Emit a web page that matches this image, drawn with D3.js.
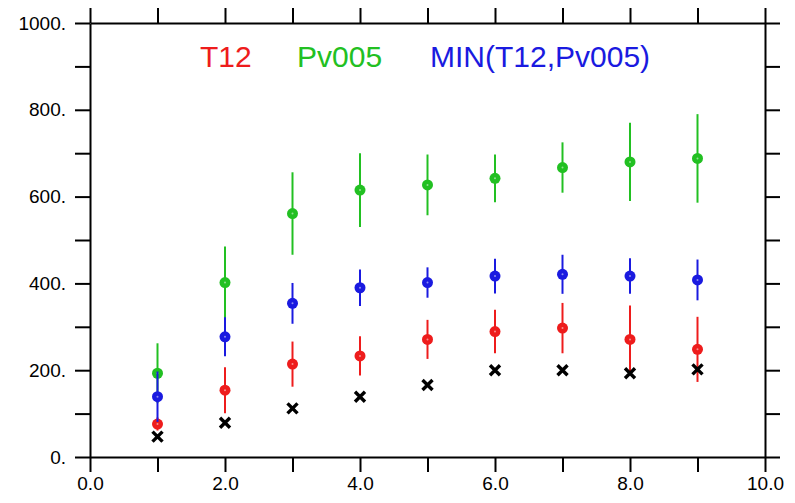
<!DOCTYPE html>
<html>
<head>
<meta charset="utf-8">
<script src="https://cdn.jsdelivr.net/npm/d3@7"></script>
<style>
  body { margin: 0; background: #fff; }
  svg { display: block; font-family: "Liberation Sans", Arial, sans-serif; }
</style>
</head>
<body>
<svg id="view" width="795" height="503"></svg>
<script>
// values
var xs = [1, 2, 3, 4, 5, 6, 7, 8, 9];
var t12 = [76, 154, 214, 233, 271, 289, 297, 271, 248];
var t12Err = [15, 53, 52, 45, 45, 50, 58, 78, 75];
var pv005 = [193, 402, 561, 615, 627, 642, 667, 680, 688];
var pv005Err = [69, 83, 95, 85, 70, 55, 58, 90, 102];
var minT12Pv = [139, 277, 354, 390, 402, 417, 421, 417, 408];
var minT12PvErr = [58, 45, 47, 42, 35, 40, 45, 41, 47];
var obs = [47, 79, 112, 139, 166, 200, 200, 193, 202];

var xTicks = [0, 1, 2, 3, 4, 5, 6, 7, 8, 9, 10];
var yTicks = [0, 100, 200, 300, 400, 500, 600, 700, 800, 900, 1000];
var legendNames = ['T12', 'Pv005', 'MIN(T12,Pv005)'];

var RED = '#ee1c1c', GREEN = '#22c022', BLUE = '#1a1ae0';

var svg = d3.select('svg#view');
// frame edges (note: "top" is taken by window.top)
var plotL = 90, plotR = 765, plotT = 23, plotB = 457;

var x = d3.scaleLinear().domain([0, 10]).range([plotL, plotR]);
var y = d3.scaleLinear().domain([0, 1000]).range([plotB, plotT]);

// axes, ticks outward on all four sides
function xFmt(d) { return d % 2 === 0 ? d.toFixed(1) : ''; }
function yFmt(d) { return d % 200 === 0 ? d + '.' : ''; }

svg.append('g').attr('transform', 'translate(0,' + plotB + ')')
	.call(d3.axisBottom(x).tickValues(xTicks).tickFormat(xFmt).tickSize(15).tickSizeOuter(0).tickPadding(5));
svg.append('g').attr('transform', 'translate(0,' + plotT + ')')
	.call(d3.axisTop(x).tickValues(xTicks).tickFormat('').tickSize(15).tickSizeOuter(0));
svg.append('g').attr('transform', 'translate(' + plotL + ',0)')
	.call(d3.axisLeft(y).tickValues(yTicks).tickFormat(yFmt).tickSize(15).tickSizeOuter(0).tickPadding(9));
svg.append('g').attr('transform', 'translate(' + plotR + ',0)')
	.call(d3.axisRight(y).tickValues(yTicks).tickFormat('').tickSize(15).tickSizeOuter(0));

svg.selectAll('.domain').attr('stroke', '#000').attr('stroke-width', 2);
svg.selectAll('.tick line').attr('stroke', '#000').attr('stroke-width', 2);
svg.selectAll('.tick text').attr('fill', '#000').style('font-size', '19px')
	.style('font-family', '"Liberation Sans", Arial, sans-serif');

// series with error bars
function series(vals, errs, color) {
	var g = svg.append('g');
	g.selectAll('line').data(xs).enter().append('line')
		.attr('x1', function(d) { return x(d); })
		.attr('x2', function(d) { return x(d); })
		.attr('y1', function(d, i) { return y(vals[i] + errs[i]); })
		.attr('y2', function(d, i) { return y(vals[i] - errs[i]); })
		.attr('stroke', color).attr('stroke-width', 2);
	g.selectAll('circle.m').data(xs).enter().append('circle')
		.attr('class', 'm')
		.attr('cx', function(d) { return x(d); })
		.attr('cy', function(d, i) { return y(vals[i]); })
		.attr('r', 5.5).attr('fill', color);
	g.selectAll('circle.s').data(xs).enter().append('circle')
		.attr('class', 's')
		.attr('cx', function(d) { return x(d); })
		.attr('cy', function(d, i) { return y(vals[i]); })
		.attr('r', 1).attr('fill', '#fff').attr('opacity', 0.5);
}

series(t12, t12Err, RED);
series(pv005, pv005Err, GREEN);
series(minT12Pv, minT12PvErr, BLUE);

// observed values, black crosses
var s = 5;
svg.append('g').selectAll('path').data(xs).enter().append('path')
	.attr('d', function(d, i) {
		var cx = x(d), cy = y(obs[i]);
		return 'M' + (cx - s) + ',' + (cy - s) + 'L' + (cx + s) + ',' + (cy + s) +
			'M' + (cx - s) + ',' + (cy + s) + 'L' + (cx + s) + ',' + (cy - s);
	})
	.attr('stroke', '#000').attr('stroke-width', 3.4).attr('fill', 'none');

// legend text
var legendX = [200, 297, 430];
var legendC = [RED, GREEN, BLUE];
svg.append('g').selectAll('text').data(legendNames).enter().append('text')
	.attr('x', function(d, i) { return legendX[i]; })
	.attr('y', 67)
	.attr('fill', function(d, i) { return legendC[i]; })
	.style('font-size', '30px')
	.text(function(d) { return d; });
</script>
</body>
</html>
